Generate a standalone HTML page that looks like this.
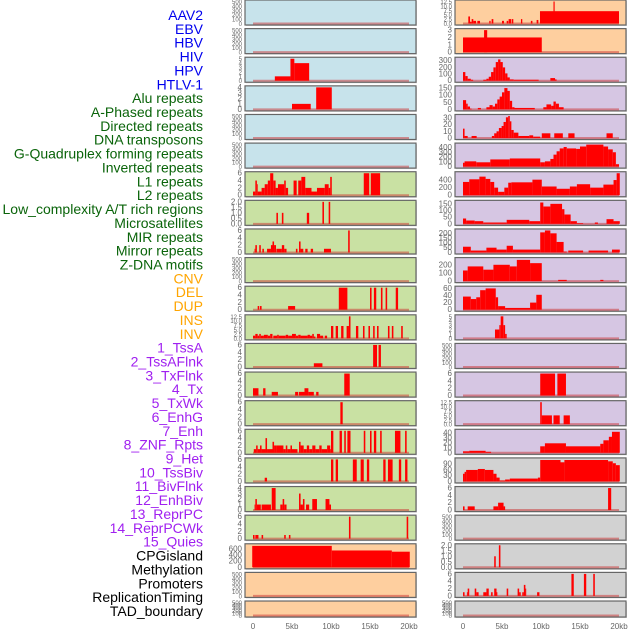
<!DOCTYPE html>
<html><head><meta charset="utf-8"><style>
html,body{margin:0;padding:0;background:#fff;}
svg{display:block;font-family:"Liberation Sans",sans-serif;}
</style></head><body>
<svg id="chart" width="630" height="630" viewBox="0 0 630 630"></svg>
<script>
const labels = ["AAV2","EBV","HBV","HIV","HPV","HTLV-1","Alu repeats","A-Phased repeats","Directed repeats","DNA transposons","G-Quadruplex forming repeats","Inverted repeats","L1 repeats","L2 repeats","Low_complexity A/T rich regions","Microsatellites","MIR repeats","Mirror repeats","Z-DNA motifs","CNV","DEL","DUP","INS","INV","1_TssA","2_TssAFlnk","3_TxFlnk","4_Tx","5_TxWk","6_EnhG","7_Enh","8_ZNF_Rpts","9_Het","10_TssBiv","11_BivFlnk","12_EnhBiv","13_ReprPC","14_ReprPCWk","15_Quies","CPGisland","Methylation","Promoters","ReplicationTiming","TAD_boundary"];
const labelGroups = [6,13,5,15,5];
const groupColors = ["#0000ee","#0a640a","#ffa500","#a020f0","#000000"];
const xTickVals = [0,5,10,15,20];
const xTickText = ["0","5kb","10kb","15kb","20kb"];

const tEmpty=[0,100,200,300,400,500], t6=[0,2,4,6], t5=[0,1,2,3,4,5], t4=[0,1,2,3,4], t2=[0,0.5,1,1.5,2], t125=[0,2.5,5,7.5,10,12.5];

const segL2=[[2.8,4.8,1],[4.8,5.3,5],[5.3,7.2,4]];
const segL3=[[5.0,7.4,1],[8.1,10.1,4]];
const segL6=[[0,0.3,1],[0.3,0.5,4],[0.5,0.6,3],[0.6,1.1,1],[1.1,1.5,2],[1.5,1.9,3],[1.9,2.2,4],[2.2,2.6,6],[2.6,2.9,4],[2.9,3.2,2],[3.2,4.0,3],[4.0,4.2,4],[4.2,4.5,2],[5.2,5.6,4],[5.8,6.2,4],[6.2,6.7,5],[6.7,7.5,2],[7.5,8.2,1],[8.2,9.2,2],[9.2,9.7,3],[9.7,9.9,2],[9.9,10.1,5],[14.2,14.9,6],[15.1,16.3,6]];
const segL7=[[3.0,3.2,1],[3.7,3.9,1],[6.9,7.2,1],[8.9,9.1,2],[9.7,9.9,2]];
const segL8=[[0.2,0.3,1],[0.3,0.5,2],[0.8,1.0,2],[1.2,1.4,1],[1.8,2.3,1],[2.3,2.5,2],[2.5,2.7,3],[2.7,2.95,2],[3.0,3.7,1],[3.7,4.0,2],[4.0,4.3,1],[5.5,5.7,1],[5.9,6.1,3],[6.1,6.45,1],[6.7,7.0,1],[7.4,7.7,1],[9.1,10.0,1],[12.2,12.4,6]];
const segL10=[[0.6,0.8,1],[0.9,1.1,1],[4.5,5.4,1],[11.0,12.1,6],[15.0,15.2,6],[15.5,15.8,6],[16.4,16.6,6],[17.0,17.2,6],[18.3,18.6,6]];
const segL11=[[0,0.3,1.5],[0.3,0.6,2.5],[0.6,0.8,1.5],[0.8,1.0,2.5],[1.0,1.4,1.5],[1.4,1.9,2],[1.9,2.2,1.5],[2.2,2.5,2.5],[2.6,3.1,1.5],[3.1,3.3,2],[3.3,4.2,1.5],[4.2,4.5,2],[4.5,5.0,1.5],[5.0,5.5,2.5],[5.5,5.8,1.5],[5.8,6.1,2],[6.1,7.0,1.5],[7.0,7.3,2],[7.3,7.6,1.5],[7.6,7.8,2.5],[7.8,8.0,1],[8.2,8.6,2.5],[8.6,9.0,1.5],[9.2,9.5,1.5],[10.0,10.3,7],[10.6,10.9,7],[11.3,11.6,7],[12.0,12.3,7],[12.3,12.5,12.5],[13.2,13.5,7],[14.1,14.3,7],[14.8,15.0,7],[15.4,15.6,7],[15.9,16.1,7],[17.3,17.5,7],[17.8,18.0,7],[19.0,19.2,7]];
const segL12=[[7.8,8.9,1],[15.4,15.9,6],[16.1,16.4,6]];
const segL13=[[0,0.7,2],[1.3,1.6,2],[2.4,3.2,1],[5.4,5.8,1],[5.9,6.6,1],[6.6,7.1,2],[7.1,7.8,1],[8.1,8.4,1],[11.7,12.4,6]];
const segL14=[[11.2,11.5,6]];
const segL15=[[0.1,0.4,1],[0.4,0.6,2],[0.6,0.9,1],[0.9,1.1,2],[1.1,1.6,1],[1.6,1.8,4],[1.8,2.5,1],[2.5,2.7,3],[2.7,3.0,2],[3.0,3.9,2],[3.9,4.2,1],[4.2,4.4,2],[4.4,4.8,1],[4.8,5.0,2],[5.0,5.7,1],[5.9,6.1,3],[6.1,6.5,2],[6.5,6.9,1],[6.9,7.2,2],[7.2,7.6,1],[7.6,8.0,2],[8.0,8.5,1],[8.5,8.8,2],[8.8,9.5,1],[9.5,9.9,2],[9.9,10.0,1],[10.0,10.3,6],[11.1,11.4,6],[11.7,11.9,6],[12.1,12.5,6],[14.2,14.4,6],[15.0,15.2,6],[15.5,15.8,6],[16.3,16.5,6],[18.2,18.9,6],[19.5,19.7,6]];
const segL16=[[1.5,1.8,1],[10.0,10.3,6],[10.6,10.9,6],[12.8,13.3,6],[13.8,14.2,6],[14.6,14.9,6],[16.7,17.0,6],[17.3,17.9,6],[18.7,19.0,6],[19.5,19.8,6]];
const segL17=[[0.2,0.3,1],[0.3,0.5,2],[0.5,1.0,1],[1.1,2.3,1],[2.4,2.9,4],[3.5,3.8,1],[3.8,4.0,2],[4.0,4.3,1],[5.9,6.1,3],[6.1,6.4,1],[6.4,6.6,2],[6.8,7.2,1],[7.6,8.2,2],[9.3,9.8,2],[9.8,10.0,1]];
const segL18=[[0,0.2,1],[0.3,0.7,1],[1.1,1.3,1],[4.0,4.2,1],[4.6,4.8,1],[12.3,12.5,6],[19.7,19.9,6]];
const segL19=[[-0.1,10.1,700],[10.1,17.8,550],[17.8,20.1,510]];

const segR0=[[0.68,0.9,4],[0.9,1.11,1],[1.11,1.32,2.5],[1.32,1.67,1.5],[1.84,2.18,1.5],[3.37,3.54,1.5],[3.67,3.89,2.5],[5.0,5.25,1.5],[5.6,5.8,1.5],[5.85,6.2,2.5],[6.28,6.45,2.5],[7.43,7.6,2.5],[8.7,8.9,1.5],[9.44,9.66,2],[9.87,20.0,7],[11.6,11.75,12.5]];
const segR1=[[0,10.1,2],[2.7,3.1,3]];
const segR2=[[0,0.3,130],[0.3,0.6,70],[0.6,1.0,30],[1.0,1.3,15],[2.6,3.0,15],[3.0,3.3,30],[3.3,3.6,60],[3.6,3.9,130],[3.9,4.2,200],[4.2,4.5,280],[4.5,4.8,320],[4.8,5.1,280],[5.1,5.4,200],[5.4,5.7,110],[5.7,6.0,50],[6.0,6.5,20],[6.5,9.7,15],[11.2,11.8,40],[11.8,12.0,20]];
const segR3=[[0,0.4,65],[0.4,0.6,40],[0.6,0.9,20],[0.9,1.1,5],[1.9,2.3,10],[3.0,3.4,15],[3.4,3.8,30],[3.8,4.1,20],[4.1,4.4,40],[4.4,4.7,70],[4.7,5.0,90],[5.0,5.3,120],[5.3,5.7,150],[5.7,6.0,130],[6.0,6.3,60],[6.3,6.6,15],[6.6,9.2,10],[10.3,10.7,15],[10.7,11.3,35],[11.3,11.6,25],[11.6,11.9,55],[11.9,12.3,40],[12.3,12.9,15]];
const segR4=[[0,0.2,14],[0.2,0.6,3],[1.1,1.75,3],[3.7,4.0,3],[4.0,4.3,7],[4.3,4.6,10],[4.6,4.95,15],[4.95,5.2,18],[5.2,5.5,24],[5.5,5.8,31],[5.8,6.0,33],[6.0,6.2,25],[6.2,6.5,12],[6.5,7.1,8],[7.1,8.5,3],[8.5,9.0,4],[9.0,9.9,2],[10.1,11.2,7],[11.7,12.8,7],[13.5,14.3,7],[18.4,19.2,7]];
const segR5=[[0,0.2,80],[0.2,1.7,110],[1.7,3.5,90],[3.5,6.0,150],[6.0,9.9,170],[9.9,10.5,90],[10.5,11.2,110],[11.2,11.6,160],[11.6,12.0,250],[12.0,12.4,320],[12.4,12.9,380],[12.9,13.3,410],[13.3,14.5,380],[14.5,15.0,370],[15.0,15.8,420],[15.8,18.0,460],[18.0,18.6,420],[18.6,19.2,360],[19.2,19.6,300],[19.6,20.0,50]];
const segR6=[[0,0.8,350],[0.8,2.1,420],[2.1,2.9,490],[2.9,3.5,430],[3.5,4.0,350],[4.0,4.5,200],[4.5,5.3,90],[5.3,5.8,200],[5.8,6.2,330],[6.2,8.9,340],[8.9,10.1,410],[10.1,12.0,230],[12.0,13.7,170],[13.7,14.6,230],[14.6,16.3,290],[16.3,18.0,200],[18.0,19.3,280],[19.3,19.7,400],[19.7,20.1,580]];
const segR7=[[0,0.4,40],[0.4,1.5,25],[1.5,2.6,20],[2.6,5.6,10],[5.6,8.5,30],[8.5,9.9,20],[9.9,10.3,160],[10.3,11.2,130],[11.2,12.7,150],[12.7,13.0,110],[13.0,13.8,70],[13.8,14.6,20],[14.6,15.4,5],[16.9,17.3,10],[18.4,19.3,35],[19.3,20.1,20]];
const segR8=[[0,1.0,60],[1.0,3.0,20],[3.0,4.3,50],[4.3,5.6,30],[5.6,6.4,70],[6.4,9.9,30],[9.9,10.5,210],[10.5,11.2,230],[11.2,12.0,200],[12.0,12.9,110],[12.9,13.3,10],[13.5,15.4,20],[16.1,18.6,20],[19.1,20.1,30]];
const segR9=[[0,0.6,130],[0.6,2.6,180],[2.6,3.9,140],[3.9,6.0,200],[6.0,6.9,180],[6.9,8.6,260],[8.6,10.1,220],[12.2,13.3,15],[17.6,18.0,15]];
const segR10=[[0,1.0,37],[1.0,1.7,30],[1.7,2.2,35],[2.2,2.9,55],[2.9,4.2,60],[4.2,4.5,35],[4.5,5.4,10],[5.4,8.6,5],[8.6,9.4,20],[9.4,10.1,42]];
const segR11=[[4.1,4.66,2],[4.66,4.83,3],[4.83,5.17,5],[5.17,5.4,3],[5.4,5.6,1]];
const segR13=[[9.9,11.8,6],[12.1,13.2,6]];
const segR14=[[9.9,10.1,12.5],[10.1,11.4,5],[11.6,12.4,5],[12.9,13.7,5]];
const segR15=[[0,0.8,3],[0.8,2.9,4],[2.9,3.6,2],[9.9,10.5,13],[10.5,13.2,19],[13.2,17.6,13],[17.6,18.0,18],[18.0,18.7,25],[18.7,19.1,32],[19.1,20.1,42]];
const segR16=[[0,0.2,40],[0.2,0.4,50],[0.4,1.9,60],[1.9,2.8,65],[2.8,3.9,60],[3.9,4.3,40],[4.3,4.7,20],[4.7,5.4,5],[5.4,6.0,10],[6.0,9.6,15],[9.6,9.9,20],[9.9,12.5,112],[12.5,13.0,100],[13.0,18.6,112],[18.6,19.2,105],[19.2,19.6,95],[19.6,20.1,85]];
const segR17=[[0,0.2,1],[0.6,1.5,1],[3.9,4.5,1],[4.5,5.2,2],[5.2,5.4,1],[18.6,19.0,6]];
const segR19=[[4.0,4.2,1],[4.6,4.8,2]];
const segR20=[[0,0.2,1],[0.5,0.6,1],[0.6,0.8,2],[1.5,1.7,2],[1.7,2.0,1],[2.6,3.0,1],[3.0,3.3,2],[3.6,3.8,1],[4.0,4.3,2],[4.3,4.4,1],[5.6,5.8,2],[7.0,7.2,2],[7.2,7.4,1],[7.6,7.8,1],[7.8,8.0,3],[8.0,8.1,2],[9.5,9.8,1],[13.9,14.2,6],[15.5,15.8,6],[16.7,16.9,6]];

const leftSegs=[null,null,segL2,segL3,null,null,segL6,segL7,segL8,null,segL10,segL11,segL12,segL13,segL14,segL15,segL16,segL17,segL18,segL19,null,null];
const leftMax=[500,500,5,4,500,500,6,2,6,500,6,12.5,6,6,6,6,6,4,6,720,500,500];
const leftTicks=[tEmpty,tEmpty,t5,t4,tEmpty,tEmpty,t6,t2,t6,tEmpty,t6,t125,t6,t6,t6,t6,t6,t4,t6,[0,200,400,600],tEmpty,tEmpty];
const rightSegs=[segR0,segR1,segR2,segR3,segR4,segR5,segR6,segR7,segR8,segR9,segR10,segR11,null,segR13,segR14,segR15,segR16,segR17,null,segR19,segR20,null];
const rightMax=[12.5,3,330,155,33,460,580,165,230,270,62,5,500,6,12.5,44,115,6,500,2,6,500];
const rightTicks=[t125,[0,1,2,3],[0,100,200,300],[0,50,100,150],[0,10,20,30],[0,100,200,300,400],[0,200,400],[0,50,100,150],[0,50,100,150,200],[0,100,200],[0,20,40,60],t5,tEmpty,t6,t125,[0,10,20,30,40],[0,30,60,90],t6,tEmpty,t2,t6,tEmpty];

const BLUE="#c7e3eb",GREEN="#c9e1a3",PEACH="#fecf9f",PURPLE="#d6c6e3",GREY="#d2d2d2";
function leftBg(r){return r<=5?BLUE:(r<=18?GREEN:PEACH);}
function rightBg(r){return r<=1?PEACH:(r<=15?PURPLE:GREY);}

const NS="http://www.w3.org/2000/svg";
const svg=document.getElementById('chart');
function mk(tag,attrs,parent){const e=document.createElementNS(NS,tag);for(const k in attrs)e.setAttribute(k,attrs[k]);(parent||svg).appendChild(e);return e;}

let li=0;
for(let g=0;g<labelGroups.length;g++){for(let j=0;j<labelGroups[g];j++){
  const t=mk('text',{x:203,y:15+li*13.86+5,'text-anchor':'end','font-size':'14',fill:groupColors[g]});
  
  
  t.textContent=labels[li];li++;}}

function rowTop(r){return r*28.62;}
function rowH(r){return r===21?16:25;}
function xScale(col,kb){return (col?463:253)+kb*7.8;}

function drawPanel(col,r,segs,ymax,ticks,bg){
  const top=rowTop(r),h=rowH(r),left=col?455:245;
  const g=mk('g',{});
  
  
  mk('rect',{x:left+1,y:top+1,width:171,height:h,fill:'#bbb',opacity:0.6},g);
  mk('rect',{x:left,y:top,width:171,height:h,fill:bg,stroke:'#666','stroke-width':1.2},g);
  const y0=top+h-1.5, y1=top+1.5;
  const yS=v=>y0-(v/ymax)*(y0-y1);
  mk('line',{x1:xScale(col,0),x2:xScale(col,20),y1:y0,y2:y0,stroke:'#c33','stroke-width':2,opacity:0.5},g);
  if(segs){for(const s of segs){
    const x1=Math.max(xScale(col,s[0]),left+1),x2=Math.min(xScale(col,s[1]),left+170);
    const b=mk('rect',{x:x1,y:yS(s[2]),width:Math.max(x2-x1,0.8),height:y0-yS(s[2]),fill:'#ff0000'},g);
    
    
  }}
  const dec=ticks.some(t=>t%1!==0);
  const fs=ticks.length>5?6:8;
  for(const t of ticks){
    const tx=mk('text',{x:left-3,y:yS(t)+2.5,'text-anchor':'end','font-size':fs,fill:'#666'},g);
    
    
    tx.textContent=dec?t.toFixed(1):String(t);
  }
}
for(let r=0;r<22;r++){
  drawPanel(0,r,leftSegs[r],leftMax[r],leftTicks[r],leftBg(r));
  drawPanel(1,r,rightSegs[r],rightMax[r],rightTicks[r],rightBg(r));
}
for(let c=0;c<2;c++){for(let i=0;i<xTickVals.length;i++){
  const t=mk('text',{x:xScale(c,xTickVals[i]),y:629,'text-anchor':'middle','font-size':8,fill:'#666'});
  
  
  t.textContent=xTickText[i];
}}
</script>
</body></html>
